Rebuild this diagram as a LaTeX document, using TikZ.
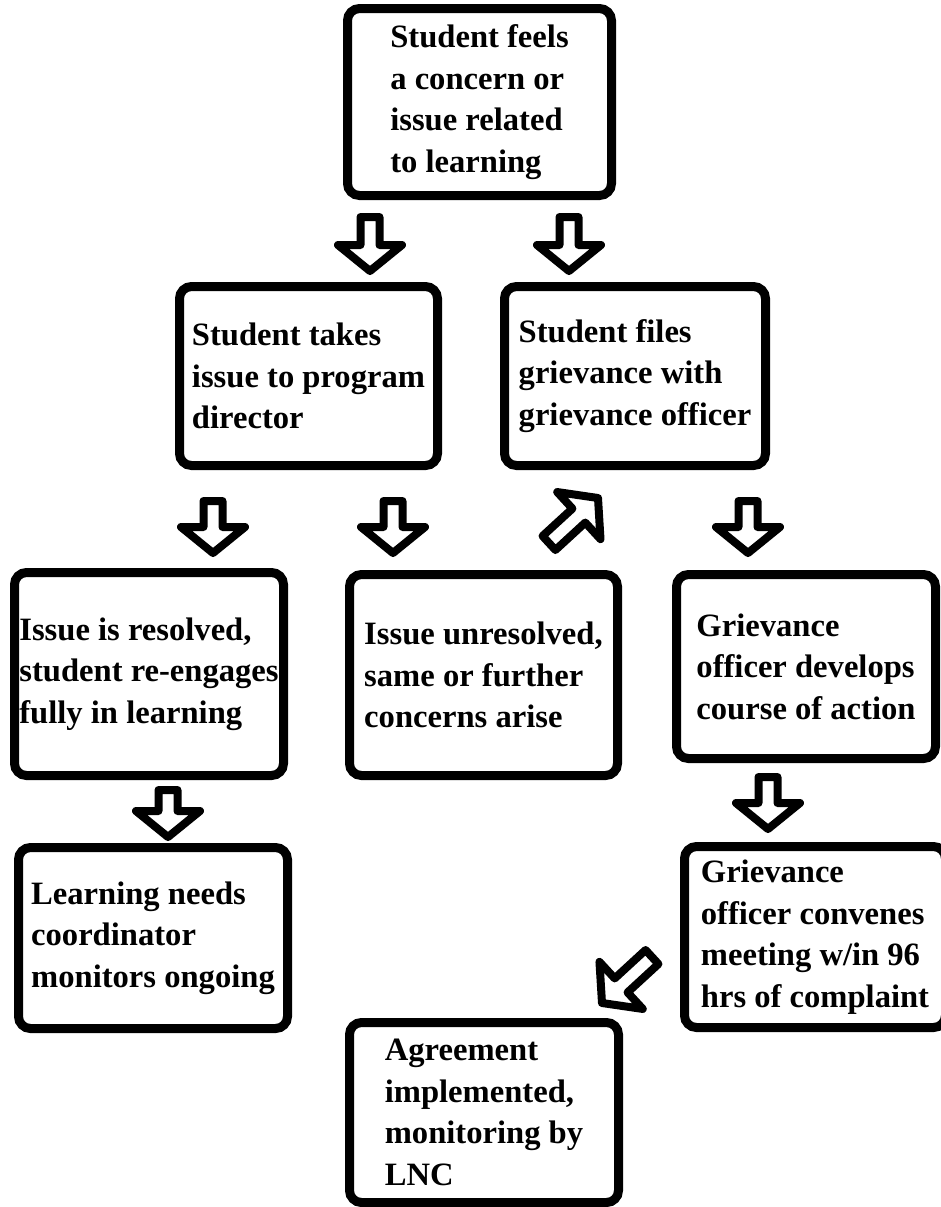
\documentclass[tikz,border=0pt]{standalone}
\usepackage{fontspec}
\setmainfont{Liberation Serif}
\usepackage{tikz}
\usetikzlibrary{calc}

\tikzset{
  box/.style={draw, line width=4.5pt, rounded corners=6pt, align=left,
    inner sep=0pt, font=\fontsize{16.3}{20.75}\selectfont\bfseries},
  hollow/.style={draw, fill=white, line width=4pt, line join=round, to path={
    ($(\tikztotarget)!13pt!(\tikztostart)$) coordinate (hb)
    ($(\tikztostart)!4.75pt!90:(\tikztotarget)$)
    -- ($(hb)!4.75pt!-90:(\tikztostart)$)
    -- ($(hb)!16pt!-90:(\tikztostart)$)
    -- (\tikztotarget)
    -- ($(hb)!16pt!90:(\tikztostart)$)
    -- ($(hb)!4.75pt!90:(\tikztostart)$)
    -- ($(\tikztostart)!4.75pt!-90:(\tikztotarget)$)
    -- cycle}}
}

\begin{document}
\begin{tikzpicture}[x=0.5pt,y=-0.5pt]
\useasboundingbox (0,0) rectangle (941,1207);
% boxes
\node[box, minimum width=132pt, minimum height=93.5pt] (feel) at (479.5,102)
  {Student feels\\a concern or\\issue related\\to learning};
\node[box, minimum width=129pt, minimum height=89.5pt] (director) at (308.5,376)
  {Student takes\\issue to program\\director};
\node[box, minimum width=130.5pt, minimum height=89.5pt] (file) at (635,376)
  {Student files\\grievance with\\grievance officer};
\node[box, minimum width=134.5pt, minimum height=101.5pt] (resolved) at (149,674)
  {Issue is resolved,\\student re-engages\\fully in learning};
\node[box, minimum width=134pt, minimum height=100.5pt] (unresolved) at (483.5,675)
  {Issue unresolved,\\same or further\\concerns arise};
\node[box, minimum width=129.5pt, minimum height=92pt] (develop) at (806,666.5)
  {Grievance\\officer develops\\course of action};
\node[box, minimum width=134.5pt, minimum height=90.5pt] (monitor) at (153,938)
  {Learning needs\\coordinator\\monitors ongoing};
\node[box, minimum width=130.5pt, minimum height=90.5pt] (convene) at (815,937)
  {Grievance\\officer convenes\\meeting w/in 96\\hrs of complaint};
\node[box, minimum width=134.5pt, minimum height=90pt] (agree) at (484,1112.5)
  {Agreement\\implemented,\\monitoring by\\LNC};
% arrow ends
\coordinate (a1) at (370,217);  \coordinate (b1) at (370,271);
\coordinate (a2) at (569,217);  \coordinate (b2) at (569,271);
\coordinate (a3) at (213,501);  \coordinate (b3) at (213,553);
\coordinate (a4) at (393,501);  \coordinate (b4) at (393,553);
\coordinate (a5) at (549,543);  \coordinate (b5) at (598,498);
\coordinate (a6) at (748,501);  \coordinate (b6) at (748,553);
\coordinate (a7) at (168,790);  \coordinate (b7) at (168,837);
\coordinate (a8) at (768,777);  \coordinate (b8) at (768,829);
\coordinate (a9) at (652,957);  \coordinate (b9) at (602,1003);
% arrows
\draw[hollow] (a1) to (b1);
\draw[hollow] (a2) to (b2);
\draw[hollow] (a3) to (b3);
\draw[hollow] (a4) to (b4);
\draw[hollow] (a5) to (b5);
\draw[hollow] (a6) to (b6);
\draw[hollow] (a7) to (b7);
\draw[hollow] (a8) to (b8);
\draw[hollow] (a9) to (b9);
\end{tikzpicture}
\end{document}
